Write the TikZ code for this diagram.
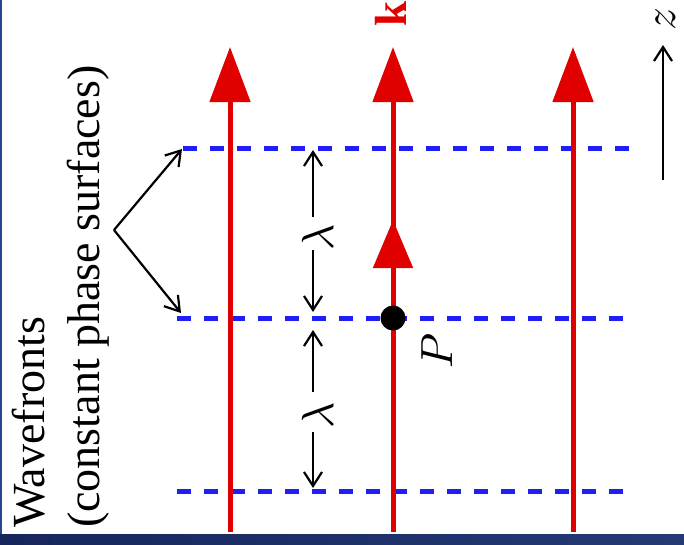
\documentclass[tikz,border=0pt]{standalone}
\usepackage{fontspec}
\setmainfont{Liberation Serif}
\newfontfamily\wavefont{Liberation Serif}
\usetikzlibrary{arrows.meta}
\definecolor{wred}{RGB}{224,0,0}
\definecolor{wblue}{RGB}{30,30,245}
\definecolor{navyA}{RGB}{22,38,92}
\definecolor{navyB}{RGB}{36,58,116}
\definecolor{edgeblue}{RGB}{40,70,140}
\begin{document}
\begin{tikzpicture}[x=1pt,y=-1pt,
  redline/.style={draw=wred,line width=5pt},
  wave/.style={draw=wblue,line width=5pt,dash pattern=on 14pt off 13pt},
  barb/.style={draw=black,line width=2.2pt,-{Straight Barb[length=14pt,width=18pt,line width=2.2pt]}},
  bigtip/.style={-{Triangle[length=55pt,width=40pt]}},
  lbl/.style={inner sep=0pt,rotate=90,scale=4.5},
  txt/.style={inner sep=0pt,rotate=90,anchor=base west,font=\wavefont\fontsize{46}{55}\selectfont}]
\useasboundingbox (0,0) rectangle (684,544);
\fill[white] (0,0) rectangle (684,544);
% wavefronts
\coordinate (w1s) at (183,148); \coordinate (w1e) at (637,148);
\coordinate (w2s) at (177,318); \coordinate (w2e) at (633,318);
\coordinate (w3s) at (177,491); \coordinate (w3e) at (633,491);
\draw[wave] (w1s) -- (w1e);
\draw[wave] (w2s) -- (w2e);
\draw[wave] (w3s) -- (w3e);
% rays
\coordinate (r1b) at (230,532); \coordinate (r1t) at (230,47);
\coordinate (r2b) at (393,532); \coordinate (r2t) at (393,47);
\coordinate (r3b) at (573,532); \coordinate (r3t) at (573,47);
\draw[redline,bigtip] (r1b) -- (r1t);
\draw[redline,bigtip] (r2b) -- (r2t);
\draw[redline,bigtip] (r3b) -- (r3t);
\node[circle,fill=black,inner sep=0pt,minimum size=25pt] (P) at (393,318) {};
\coordinate (m2t) at (393,220);
\draw[redline,-{Triangle[length=48pt,width=39pt]}] (P) -- (m2t);
% labels
\node[lbl] (Plab) at (437,351) {$P$};
\node[lbl,text=wred] (klab) at (391,14) {$\mathbf{k}$};
\node[lbl] (zlab) at (666,19) {$z$};
\node[lbl] (lam1) at (318,237) {$\lambda$};
\node[lbl] (lam2) at (318,415) {$\lambda$};
% lambda arrows
\coordinate (l1a) at (313,217); \coordinate (l1t) at (313,150);
\coordinate (l1b) at (313,250); \coordinate (l1u) at (313,312);
\coordinate (l2a) at (313,392); \coordinate (l2t) at (313,330);
\coordinate (l2b) at (313,432); \coordinate (l2u) at (313,488);
\draw[barb] (l1a) -- (l1t);
\draw[barb] (l1b) -- (l1u);
\draw[barb] (l2a) -- (l2t);
\draw[barb] (l2b) -- (l2u);
% z arrow
\coordinate (za) at (663,180); \coordinate (zt) at (663,45);
\draw[barb] (za) -- (zt);
% wavefront pointer
\coordinate (apex) at (114,230);
\coordinate (p1) at (182,149); \coordinate (p2) at (181,313);
\draw[barb] (apex) -- (p1);
\draw[barb] (apex) -- (p2);
% text
\node[txt] (wtxt1) at (44,528) {Wavefronts};
\node[txt] (wtxt2) at (99,528) {(constant phase surfaces)};
% frame
\fill[edgeblue] (0,0) rectangle (2,534);
\shade[left color=navyA,right color=navyB] (0,534) rectangle (684,544);
\end{tikzpicture}
\end{document}
